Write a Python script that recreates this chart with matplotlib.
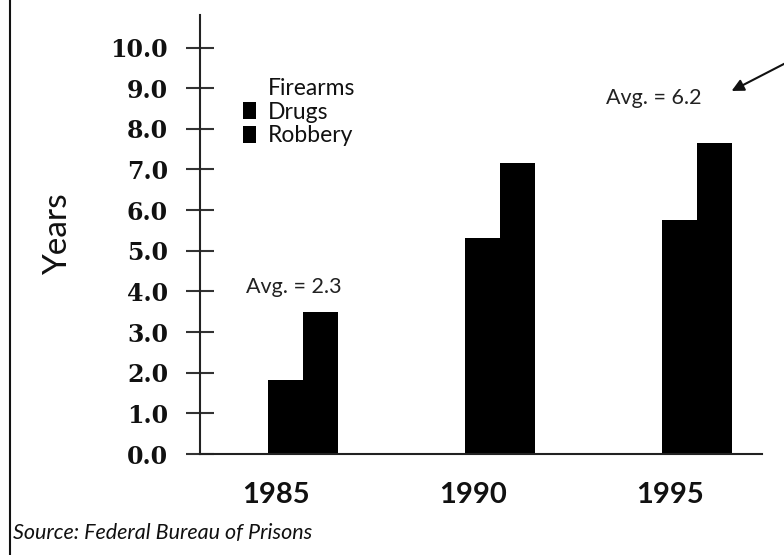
import matplotlib.pyplot as plt
from matplotlib.lines import Line2D
import numpy as np

plt.rcParams["font.family"] = ["Lato", "DejaVu Sans"]

years = ["1985", "1990", "1995"]
firearms = [0.0, 0.0, 0.0]
drugs = [1.82, 5.31, 5.75]
robbery = [3.49, 7.15, 7.64]
series = ["Firearms", "Drugs", "Robbery"]
y_ticks = [0.0, 1.0, 2.0, 3.0, 4.0, 5.0, 6.0, 7.0, 8.0, 9.0, 10.0]
avg_text = ["Avg. = 2.3", "Avg. = 6.2"]

fig = plt.figure(figsize=(7.84, 5.55), dpi=100)
ax = fig.add_axes([200 / 784, 101 / 555, 562 / 784, 439 / 555])

x = np.arange(len(years))
w = 0.178
ax.bar(x - 0.12, firearms, w, color="white", label=series[0])
ax.bar(x + 0.05, drugs, w, color="black", label=series[1])
ax.bar(x + 0.228, robbery, w, color="black", label=series[2])

ax.set_xlim(-0.386, 2.467)
ax.set_ylim(0, 10.8)

for s in ["top", "right"]:
    ax.spines[s].set_visible(False)
for s in ["left", "bottom"]:
    ax.spines[s].set_linewidth(1.5)
    ax.spines[s].set_color("#222222")

ax.set_yticks(y_ticks)
ax.set_yticklabels(["%.1f" % v for v in y_ticks], family="DejaVu Serif",
                   fontweight="bold", fontsize=17, color="#111111")
ax.tick_params(axis="y", direction="inout", length=20, width=1.5,
               color="#333333", pad=13)
ax.set_xticks(x)
ax.set_xticklabels(years, fontweight="bold", fontsize=21, color="#111111")
ax.tick_params(axis="x", length=0, pad=20)

ax.set_ylabel("Years", fontsize=24, color="#111111", labelpad=27)

leg = ax.legend(loc="upper left", frameon=False, fontsize=16.5,
                handlelength=0.55, handleheight=0.75, handletextpad=0.55,
                labelspacing=0.12, borderpad=0, borderaxespad=0)
leg.set_bbox_to_anchor((243 / 784, 1 - 78 / 555), transform=fig.transFigure)
for t in leg.get_texts():
    t.set_color("#111111")

ax.text(0.09, 4.1, avg_text[0], fontsize=15.5, ha="center", va="center",
        color="#222222")
ax.text(1.92, 8.75, avg_text[1], fontsize=15.5, ha="center", va="center",
        color="#222222")
ax.annotate("", xy=(2.30, 8.9), xytext=(2.60, 9.65), annotation_clip=False,
            arrowprops=dict(arrowstyle="-|>", color="#111111", lw=1.5,
                            mutation_scale=18))

fig.text(13 / 784, 1 - 533 / 555, "Source: Federal Bureau of Prisons",
         fontsize=15.5, style="italic", va="center", color="#111111")
fig.add_artist(Line2D([10 / 784, 10 / 784], [0, 1], color="#111111", lw=1.5))

plt.savefig("out.png", dpi=100)
